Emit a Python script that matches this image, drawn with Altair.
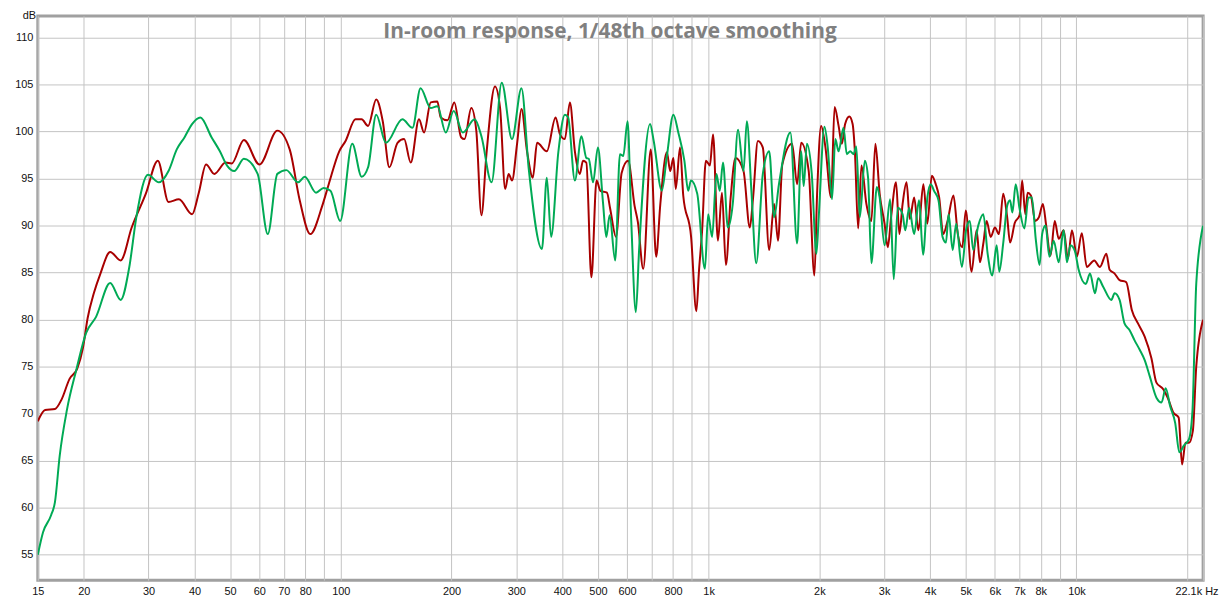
import altair as alt
import pandas as pd

# ---- data (Hz, dB) ----
red_hz = [15, 15.7, 16.7, 17.4, 18.3, 19.2, 19.9, 20.5, 21.3, 22.2, 23.6, 25.2, 27.0, 29.5, 31.8, 34.0,
          36.3, 39.4, 41.1, 43.0, 45.3, 48.6, 50.5, 54.5, 60.1, 67.2, 72.6, 77.3, 82.6, 89.0, 92.7, 99.0,
          103, 109.6, 113.9, 118.6, 124.8, 130, 135.5, 142.6, 148.6, 154.9, 163.1, 168.4, 175.5, 183,
          186.9, 195, 203.5, 212.3, 216.9, 226.3, 233.5, 241.1, 248.8, 262.5, 271, 279.8, 285.9, 292,
          301.4, 309.8, 320.8, 332.7, 341.6, 363.1, 383.6, 394.3, 406.6, 419.5, 432.8, 446.3, 455.5,
          465, 480, 495.7, 508, 529, 539.9, 560, 580, 604, 629, 642, 664, 696, 720, 739, 770, 786, 802,
          814, 836, 853, 896, 926, 941, 960, 983, 1008, 1028, 1060, 1087, 1114, 1148, 1183, 1244, 1294,
          1321, 1361, 1404, 1461, 1507, 1544, 1586, 1686, 1740, 1785, 1871, 1939, 1972, 2022, 2078,
          2152, 2200, 2256, 2303, 2350, 2413, 2463, 2498, 2550, 2603, 2685, 2770, 2840, 2917, 3008,
          3070, 3134, 3233, 3300, 3368, 3452, 3524, 3620, 3718, 3836, 3933, 4043, 4145, 4234, 4343,
          4463, 4630, 4758, 4894, 5001, 5187, 5352, 5466, 5582, 5700, 5846, 6004, 6156, 6322, 6481,
          6600, 6800, 7004, 7118, 7262, 7365, 7518, 7717, 7909, 8104, 8275, 8500, 8730, 8948, 9232,
          9482, 9722, 10030, 10340, 10670, 11180, 11580, 12060, 12310, 12700, 13100, 13650, 14150,
          14700, 15330, 15990, 16500, 17220, 17710, 18360, 18960, 19370, 19790, 20230, 20730, 21170,
          22100]
red_db = [69.2, 70.4, 70.5, 71.5, 73.7, 74.8, 77.0, 80.2, 82.8, 84.9, 87.2, 86.3, 89.8, 93.4, 96.9, 92.5,
          92.8, 91.2, 93.5, 96.5, 95.5, 96.7, 96.6, 99.1, 96.5, 100.1, 98.1, 92.7, 89.1, 92.1, 94.4, 97.9,
          99.0, 101.3, 101.3, 100.6, 103.4, 101.1, 96.2, 98.8, 99.2, 96.7, 101.3, 99.9, 103.1, 103.2,
          101.5, 101.2, 103.1, 99.4, 99.2, 102.5, 100.1, 91.1, 97.6, 104.8, 102.5, 93.9, 95.5, 94.8,
          98.7, 102.4, 97.9, 95.1, 98.8, 97.9, 101.5, 99.7, 99.2, 103.1, 97.9, 95.5, 96.9,
          96.7, 84.5, 94.8, 93.7, 93.5, 91.8, 88.8, 95.6, 96.9, 92.1, 90.4, 85.4, 98.1, 86.7, 92.3, 97.8, 95.8, 97.2,
          93.9, 98.3, 93.2, 88.8, 80.9, 85.1, 89.5, 96.9, 96.4, 99.7, 88.4, 93.5, 85.8, 93.0, 97.2, 95.8, 89.8,
          93.0, 99.0, 98.3, 87.4, 92.3, 88.4, 96.5, 98.7, 94.4, 98.8, 95.8, 84.7, 93.4, 100.6, 98.3,
          93.0, 102.6, 100.6, 98.7, 100.8, 101.6, 100.8, 97.9, 89.7, 96.4, 92.3, 90.5, 98.7, 93.4, 90.2,
          87.7, 90.9, 94.6, 89.1, 92.3, 94.6, 90.7, 93.0, 89.5, 94.4, 90.2, 95.3, 94.4, 93.0, 89.1,
          90.5, 93.2, 89.1, 87.7, 91.6, 85.1, 89.5, 86.1, 88.1, 90.5, 88.8, 89.8, 89.1, 93.4, 90.9,
          88.2, 90.3, 91.1, 94.8, 91.2, 93.5, 93.2, 90.5, 90.9, 92.3, 90.0, 86.8, 90.5, 88.6, 89.5,
          86.5, 89.5, 86.7, 89.2, 85.6, 86.3, 85.6, 87.0, 85.3, 84.9, 84.2, 84.0, 81.0,
          79.6, 78.2, 75.9, 73.3, 72.6, 71.7, 70.1, 69.6, 64.6, 66.9, 66.9, 68.2, 75.0,
          80.0]

green_hz = [15, 15.5, 16.3, 16.7, 17.2, 18.0, 19.1, 20.3, 21.6, 23.6, 25.2, 26.6, 27.8, 29.9, 32.0, 34.0,
            35.8, 37.6, 39.4, 41.5, 44.5, 46.9, 49.0, 51.3, 54.5, 59.4, 63.3, 67.2, 71.1, 76.5, 79.8,
            85.6, 89.8, 93.7, 99.6, 107.4, 113.9, 118.6, 124.8, 132.6, 147, 156.6, 164.7, 175.5, 183,
            192.9, 202.7, 214.6, 231.1, 241.1, 256.9, 273.8, 292, 309.8, 324.3, 352.2, 363.1, 373,
            390.2, 406.6, 415, 432.8, 451, 465, 472, 485, 500, 516, 527, 538, 557, 574, 586, 602, 616,
            634, 647, 693, 709, 746, 770, 802, 827, 859, 880, 895, 931, 977, 997, 1022, 1050, 1072,
            1094, 1128, 1163, 1202, 1244, 1270, 1307, 1347, 1404, 1461, 1507, 1553, 1668, 1740, 1785,
            1813, 1850, 1907, 1963, 1992, 2065, 2108, 2165, 2210, 2256, 2326, 2375, 2426, 2476, 2520,
            2577, 2658, 2713, 2770, 2866, 2917, 3008, 3115, 3186, 3267, 3368, 3424, 3509, 3620, 3734,
            3828, 3933, 4017, 4100, 4216, 4325, 4418, 4492, 4608, 4709, 4882, 5024, 5130, 5240, 5408,
            5582, 5736, 5904, 6068, 6168, 6322, 6481, 6600, 6697, 6836, 7004, 7218, 7410, 7565, 7750,
            7940, 8068, 8240, 8443, 8672, 8948, 9232, 9420, 9630, 9900, 10140, 10600, 10890, 11230,
            11460, 11820, 12440, 12700, 13100, 13510, 13940, 14390, 14860, 15330, 15820, 16500, 17040,
            17480, 17980, 18560, 19040, 19590, 20230, 20680, 21170, 22100]
green_db = [55.0, 57.4, 59.2, 60.6, 65.5, 70.4, 74.7, 78.6, 80.3, 83.9, 82.1, 85.6, 90.9, 95.4, 94.6, 95.8,
            98.1, 99.4, 100.8, 101.5, 99.4, 97.9, 96.4, 95.8, 97.1, 95.5, 89.1, 95.5, 95.9, 94.6, 95.2,
            93.5, 94.0, 93.7, 90.5, 98.7, 95.2, 96.2, 101.8, 98.8, 101.3, 100.4, 104.6, 102.5, 102.7,
            99.9, 102.2, 99.9, 101.3, 99.5, 94.6, 105.2, 99.2, 104.6, 96.0, 87.5, 95.1, 88.8,
            97.8, 101.8, 101.5, 94.8, 99.5, 97.2, 97.1, 94.6, 98.3, 92.5, 88.8, 91.1, 86.3, 97.6, 97.4, 101.1, 90.5,
            80.8, 87.4, 100.8, 99.0, 93.7, 97.4, 101.8, 99.9, 96.9, 93.7, 94.8, 93.4, 85.4, 91.2, 88.8, 95.5, 93.7,
            96.7, 89.8, 92.3, 100.2, 95.8, 101.1, 93.7, 86.0, 95.5, 97.9, 90.9, 94.4, 99.9, 88.1, 97.9,
            94.2, 98.7, 95.5, 87.0, 90.9, 100.5, 98.3, 92.8, 99.2, 97.9, 100.4, 97.6, 97.9, 97.6, 98.4,
            90.9, 96.9, 95.1, 86.0, 94.1, 93.0, 87.9, 92.8, 84.3, 91.9, 91.2, 89.5, 91.9, 89.1, 92.7,
            86.9, 93.0, 94.4, 93.7, 92.7, 88.8, 88.2, 91.2, 87.4, 90.2, 85.6, 89.8, 90.5, 87.4, 90.0,
            91.2, 87.0, 84.7, 87.9, 85.1, 88.1, 92.1, 92.7, 91.4, 94.4, 91.8, 89.7, 93.0, 93.0, 88.6,
            85.8, 89.1, 90.0, 86.7, 88.4, 86.1, 89.5, 86.1, 87.9, 87.3, 85.3, 83.8, 84.9, 82.8,
            84.4, 83.5, 82.1, 82.8, 82.1, 79.6, 78.9, 77.8, 76.8, 75.7, 74.0, 71.7, 71.2,
            72.7, 70.8, 69.0, 65.9, 66.6, 67.3, 70.4, 83.8, 90.0]

tick_values = [15, 20, 30, 40, 50, 60, 70, 80, 90, 100, 200, 300, 400, 500, 600, 700, 800, 900,
               1000, 2000, 3000, 4000, 5000, 6000, 7000, 8000, 9000, 10000, 20000, 22100]
tick_labels = ["15", "20", "30", "40", "50", "60", "70", "80", "", "100", "200", "300", "400", "500",
               "600", "", "800", "", "1k", "2k", "3k", "4k", "5k", "6k", "7k", "8k", "", "10k", "",
               "22.1k Hz"]
db_ticks = [55, 60, 65, 70, 75, 80, 85, 90, 95, 100, 105, 110]
title_text = "In-room response, 1/48th octave smoothing"

red_color = "#A80000"
green_color = "#00AA55"
FONT = "Liberation Sans"

red_df = pd.DataFrame({"hz": red_hz, "db": red_db})
green_df = pd.DataFrame({"hz": green_hz, "db": green_db})

label_expr = ("[" + ",".join("'" + t + "'" for t in tick_labels) + "][indexof(["
              + ",".join(str(v) for v in tick_values) + "], datum.value)]")

x_scale = alt.Scale(type="log", domain=[15, 22100], nice=False)
y_scale = alt.Scale(domain=[52.3, 112.3], nice=False, zero=False)

x_axis = alt.Axis(values=tick_values, labelExpr=label_expr, grid=True, gridColor="#c4c4c4",
                  gridWidth=1, ticks=False, domain=False, labelOverlap=False, labelFlush=False,
                  labelBound=False, labelPadding=5, labelFont=FONT, labelFontSize=11,
                  labelColor="#111111", title=None,
                  labelAlign={"condition": {"test": "datum.value > 21000", "value": "right"},
                              "value": "center"},
                  labelOffset={"condition": {"test": "datum.value > 21000", "value": 15},
                               "value": 0})
y_axis = alt.Axis(values=db_ticks, grid=True, gridColor="#c4c4c4", gridWidth=1, ticks=False,
                  domain=False, labelPadding=5, labelFont=FONT, labelFontSize=11,
                  labelColor="#111111", title="dB", titleAngle=0, titleX=-9, titleY=-6,
                  titleAlign="center", titleBaseline="top", titleFont=FONT, titleFontSize=11,
                  titleFontWeight="normal", titleColor="#111111")

red_line = alt.Chart(red_df).mark_line(color=red_color, strokeWidth=2, interpolate="monotone",
                                       clip=True).encode(
    x=alt.X("hz:Q", scale=x_scale, axis=x_axis),
    y=alt.Y("db:Q", scale=y_scale, axis=y_axis),
)
green_line = alt.Chart(green_df).mark_line(color=green_color, strokeWidth=2, interpolate="monotone",
                                           clip=True).encode(
    x=alt.X("hz:Q", scale=x_scale),
    y=alt.Y("db:Q", scale=y_scale),
)
title_layer = alt.Chart(pd.DataFrame({"t": [title_text]})).mark_text(
    font="Open Sans", fontSize=21, fontWeight="bold", color="#808080", align="center",
    baseline="middle").encode(text="t:N", x=alt.value(576), y=alt.value(16))

chart = alt.layer(red_line, green_line, title_layer).properties(
    width=1173, height=568,
    autosize=alt.AutoSizeParams(type="none"),
    padding={"left": 30, "top": 6, "right": 17, "bottom": 14},
    background="white",
).configure_view(stroke="#a0a0a0", strokeWidth=3)

chart.save("out.html", embed_options={"renderer": "svg", "actions": False})
